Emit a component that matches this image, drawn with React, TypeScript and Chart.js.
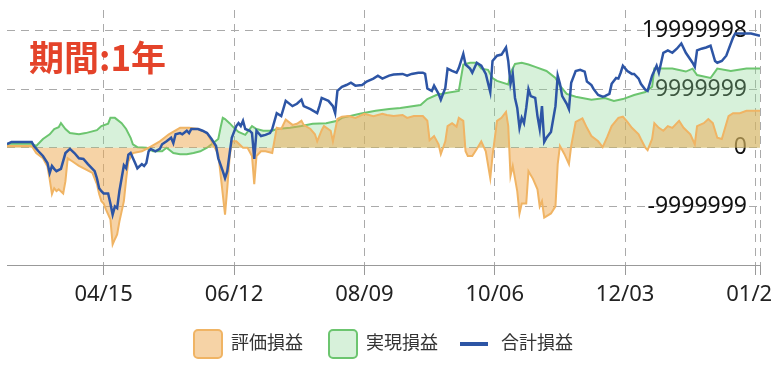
import React, { useEffect, useRef } from 'react';
import { Chart, registerables } from 'chart.js';

Chart.register(...registerables);

const FONT = "'Noto Sans', 'Noto Sans CJK JP', sans-serif";

// x axis: day offsets from the first day of the period (03/03)
const tickDays = [43, 101, 159, 217, 275, 333, 335];
const tickLabels = ['04/15', '06/12', '08/09', '10/06', '12/03', '01/29', ''];
const yTicks = [-19999998, -9999999, 0, 9999999, 19999998];

const seriesNames = ['評価損益', '実現損益', '合計損益'];

// 評価損益 (unrealized)
const unrealizedDays = [
  0, 11, 13, 16, 18, 19, 20, 21, 22, 23,
  25, 26, 27, 29, 32, 35, 38, 40, 41, 42,
  43, 44, 46, 47, 48, 49, 50, 52, 53, 54,
  56, 60, 63, 68, 72, 77, 81, 85, 89, 91,
  94, 95, 97, 98, 99, 100, 102, 105, 107, 109,
  110, 111, 113, 115, 118, 120, 122, 124, 127, 129,
  131, 132, 135, 137, 138, 140, 141, 144, 145, 147,
  149, 152, 155, 159, 163, 167, 169, 172, 176, 178,
  181, 185, 187, 188, 190, 192, 193, 195, 196, 198,
  200, 201, 203, 204, 205, 207, 209, 211, 213, 215,
  216, 218, 220, 222, 223, 224, 225, 227, 228, 229,
  231, 232, 234, 236, 237, 238, 239, 242, 244, 245,
  246, 248, 250, 251, 253, 256, 258, 260, 263, 265,
  267, 269, 272, 274, 276, 278, 281, 282, 284, 285,
  287, 288, 290, 292, 294, 296, 299, 301, 304, 306,
  307, 310, 312, 314, 316, 318, 321, 323, 326, 329,
  335,
];
const unrealizedValues = [
  300000, 300000, -900000, -1800000, -3200000, -5400000, -7900000, -6900000, -7400000, -7100000,
  -7800000, -5700000, -1800000, -2300000, -3100000, -3700000, -4300000, -6200000, -7900000, -9100000,
  -9500000, -10500000, -12200000, -16500000, -15600000, -14800000, -12600000, -9100000, -5400000, -2300000,
  -900000, -600000, 0, 1100000, 2300000, 3400000, 3400000, 3200000, 2500000, 1100000,
  -1100000, -4500000, -11400000, -6900000, -1800000, 1100000, 1100000, 0, 0, -1400000,
  -6200000, -1400000, -600000, -600000, -900000, 3400000, 3200000, 4800000, 3900000, 4100000,
  4600000, 3900000, 3200000, 2300000, 1100000, 3000000, 3700000, 2900000, 1100000, 4900000,
  5300000, 5400000, 5100000, 5800000, 5400000, 5800000, 5600000, 5400000, 5600000, 5100000,
  5400000, 5400000, 4600000, 1300000, 2000000, 600000, -1100000, 1100000, 3700000, 4200000,
  3600000, 5100000, 4600000, -600000, -1400000, -1400000, -200000, 1100000, -600000, -5200000,
  -1400000, 4600000, 5100000, 6100000, 3700000, -4800000, -3100000, -7400000, -11200000, -9500000,
  -9500000, -4000000, -5300000, -7100000, -10000000, -9100000, -11900000, -11200000, -10000000, -2800000,
  300000, -1100000, -2800000, 300000, 4400000, 5000000, 3400000, 2000000, 1100000, 100000,
  1800000, 3700000, 5100000, 5300000, 4400000, 3400000, 2300000, 1500000, 0, -400000,
  1500000, 4200000, 3400000, 2900000, 3700000, 3400000, 4600000, 3400000, 2300000, 600000,
  3700000, 4200000, 4900000, 4200000, 1700000, 1500000, 5400000, 5900000, 5900000, 6300000,
  6300000,
];

// 実現損益 (realized)
const realizedDays = [
  0, 11, 13, 16, 19, 21, 23, 24, 26, 28,
  32, 35, 40, 42, 45, 46, 48, 51, 53, 55,
  56, 58, 62, 65, 69, 71, 74, 77, 80, 83,
  86, 89, 91, 94, 95, 96, 97, 99, 101, 103,
  106, 109, 111, 114, 118, 120, 126, 131, 136, 142,
  147, 149, 157, 164, 170, 175, 184, 187, 191, 196,
  201, 203, 206, 209, 211, 214, 216, 218, 223, 224,
  226, 229, 232, 235, 240, 244, 246, 249, 253, 260,
  266, 270, 274, 279, 284, 287, 288, 296, 302, 305,
  307, 313, 316, 322, 329, 335,
];
const realizedValues = [
  700000, 700000, 300000, 1500000, 2300000, 3200000, 3500000, 4200000, 3200000, 2500000,
  2300000, 2500000, 3000000, 3700000, 4100000, 5100000, 5100000, 4200000, 3200000, 1700000,
  600000, 100000, 0, -600000, -600000, 0, -900000, -1100000, -1100000, -900000,
  -600000, 0, 600000, 1500000, 3400000, 5100000, 4900000, 4200000, 3400000, 2700000,
  2200000, 3700000, 3200000, 2900000, 2900000, 3200000, 3400000, 3700000, 4100000, 4200000,
  4600000, 5100000, 5800000, 6300000, 6600000, 6800000, 7300000, 8300000, 9000000, 9400000,
  9700000, 14200000, 14500000, 14500000, 13500000, 13300000, 11900000, 11400000, 10800000, 12800000,
  14300000, 14500000, 14200000, 13800000, 13100000, 11900000, 10600000, 9200000, 8700000, 8200000,
  8500000, 8000000, 8300000, 9000000, 9500000, 10400000, 13500000, 13500000, 13000000, 13500000,
  12400000, 11900000, 13500000, 13100000, 13500000, 13500000,
];

// 合計損益 (total)
const totalDays = [
  0, 2, 11, 12, 14, 16, 18, 19, 20, 21,
  22, 24, 26, 28, 30, 32, 34, 36, 39, 40,
  41, 42, 43, 45, 46, 47, 48, 49, 50, 51,
  52, 53, 54, 55, 57, 58, 60, 61, 62, 63,
  64, 66, 68, 69, 71, 73, 74, 75, 77, 78,
  80, 81, 82, 85, 87, 89, 91, 93, 94, 96,
  97, 98, 99, 100, 102, 103, 104, 105, 106, 108,
  109, 110, 111, 113, 115, 117, 118, 120, 122, 124,
  127, 129, 131, 132, 135, 138, 139, 140, 143, 145,
  146, 147, 149, 151, 153, 155, 158, 160, 163, 165,
  167, 170, 172, 176, 178, 180, 183, 185, 186, 187,
  189, 190, 192, 193, 195, 196, 198, 200, 201, 203,
  204, 206, 207, 209, 211, 213, 215, 216, 218, 220,
  222, 223, 224, 225, 226, 227, 228, 229, 230, 231,
  232, 233, 235, 236, 237, 238, 239, 240, 242, 244,
  245, 246, 247, 249, 250, 251, 253, 255, 257, 258,
  260, 261, 263, 265, 266, 268, 269, 271, 272, 273,
  274, 276, 278, 279, 281, 282, 284, 285, 287, 289,
  290, 292, 294, 296, 298, 300, 302, 305, 306, 307,
  309, 311, 313, 315, 316, 318, 320, 323, 324, 328,
  331, 335,
];
const totalValues = [
  600000, 1000000, 1000000, 300000, -600000, -1400000, -2600000, -4300000, -3100000, -3600000,
  -4000000, -3600000, -900000, -200000, -900000, -1800000, -1900000, -2800000, -4000000, -5200000,
  -6900000, -7400000, -7800000, -7800000, -9500000, -11400000, -10000000, -10300000, -7400000, -5200000,
  -3000000, -3500000, -1200000, -900000, -2600000, -3500000, -2800000, -3100000, -2600000, -600000,
  -200000, -600000, -200000, 600000, 1100000, 1700000, 800000, 2300000, 2500000, 2300000,
  2900000, 2500000, 3200000, 3200000, 2900000, 2500000, 1500000, 300000, -1800000, -4000000,
  -5200000, -4000000, -1100000, 1700000, 3700000, 4200000, 3700000, 4600000, 3200000, 2900000,
  2500000, -1900000, 2900000, 2000000, 2200000, 2500000, 3200000, 5900000, 5400000, 8000000,
  7100000, 7500000, 8200000, 7100000, 6600000, 5900000, 7100000, 8500000, 8000000, 7100000,
  5900000, 9700000, 10400000, 10700000, 11100000, 10600000, 10700000, 11300000, 11800000, 12300000,
  11800000, 12300000, 12500000, 12600000, 12300000, 12600000, 12800000, 12800000, 12600000, 10100000,
  9700000, 10600000, 9200000, 8200000, 10200000, 13500000, 13100000, 12800000, 13600000, 16000000,
  14200000, 13500000, 12800000, 14500000, 14000000, 12600000, 9500000, 14800000, 15700000, 15900000,
  17100000, 14800000, 10900000, 12600000, 8500000, 6800000, 3400000, 5100000, 4200000, 6800000,
  10000000, 8800000, 8500000, 5400000, 3200000, 7100000, 1000000, 1700000, 2700000, 7100000,
  12300000, 10900000, 8800000, 7500000, 6600000, 11100000, 13100000, 13300000, 13000000, 11300000,
  10700000, 10000000, 9000000, 8700000, 8800000, 9200000, 10900000, 11900000, 11800000, 12800000,
  14000000, 13100000, 12600000, 12600000, 11800000, 10900000, 9900000, 9700000, 12300000, 14000000,
  12800000, 16200000, 16600000, 16200000, 16900000, 17800000, 16200000, 14500000, 13800000, 16600000,
  16900000, 17100000, 17400000, 14800000, 14500000, 14800000, 15700000, 18800000, 19500000, 19500000,
  19500000, 19100000,
];

const BLUE = '#2D55A5';

const legendLinePlugin = {
  id: 'legendLine',
  afterDraw(chart: any) {
    const boxes = chart.legend?.legendHitBoxes;
    if (!boxes || !boxes[2]) return;
    const hb = boxes[2];
    const ctx = chart.ctx;
    ctx.save();
    ctx.strokeStyle = BLUE;
    ctx.lineWidth = 4;
    ctx.beginPath();
    const cy = hb.top + 14;
    ctx.moveTo(hb.left - 4, cy);
    ctx.lineTo(hb.left + 24, cy);
    ctx.stroke();
    ctx.restore();
  },
};

const toPoints = (days: number[], values: number[]) => days.map((d, i) => ({ x: d, y: values[i] }));

export default function App() {
  const ref = useRef<HTMLCanvasElement>(null);

  useEffect(() => {
    document.body.style.margin = '0';
    const canvas = ref.current;
    if (!canvas) return;
    const chart = new Chart(canvas, {
      type: 'line',
      data: {
        datasets: [
          {
            label: seriesNames[0],
            data: toPoints(unrealizedDays, unrealizedValues),
            borderColor: 'rgb(240,180,100)',
            backgroundColor: 'rgba(238,168,78,0.5)',
            borderWidth: 2,
            fill: 'origin',
            order: 1,
          },
          {
            label: seriesNames[1],
            data: toPoints(realizedDays, realizedValues),
            borderColor: 'rgb(108,197,111)',
            backgroundColor: 'rgba(140,215,150,0.35)',
            borderWidth: 2,
            fill: 'origin',
            order: 2,
          },
          {
            label: seriesNames[2],
            data: toPoints(totalDays, totalValues),
            borderColor: BLUE,
            backgroundColor: BLUE,
            borderWidth: 2.5,
            fill: false,
            order: 0,
          },
        ],
      },
      options: {
        animation: false,
        responsive: true,
        maintainAspectRatio: false,
        layout: { padding: { top: 10, left: 7, right: 11, bottom: 0 } },
        elements: { point: { radius: 0 }, line: { tension: 0 } },
        plugins: {
          tooltip: { enabled: false },
          legend: {
            position: 'bottom',
            labels: {
              boxWidth: 28,
              boxHeight: 28,
              padding: 26,
              color: '#333',
              font: { size: 18, family: FONT },
              useBorderRadius: true,
              borderRadius: 4,
              sort: (a: any, b: any) => a.datasetIndex - b.datasetIndex,
              generateLabels: (ch: any) =>
                ch.data.datasets.map((ds: any, i: number) => ({
                  text: ds.label,
                  datasetIndex: i,
                  hidden: false,
                  fillStyle: i === 2 ? 'rgba(0,0,0,0)' : ds.backgroundColor,
                  strokeStyle: i === 2 ? 'rgba(0,0,0,0)' : ds.borderColor,
                  lineWidth: i === 2 ? 0 : 2,
                  borderRadius: 4,
                  fontColor: '#333',
                })),
            },
          },
        },
        scales: {
          x: {
            type: 'linear',
            min: 0,
            max: 335,
            afterBuildTicks: (s: any) => {
              s.ticks = tickDays.map((v) => ({ value: v }));
            },
            afterFit: (s: any) => {
              s.paddingLeft = 0;
              s.paddingRight = 0;
              s.height = 39;
            },
            ticks: {
              autoSkip: false,
              maxRotation: 0,
              padding: 7,
              color: '#222',
              font: { size: 22, family: FONT },
              callback: (_v: any, i: number) => tickLabels[i],
            },
            grid: {
              color: '#aaa',
              lineWidth: 1,
              drawTicks: true,
              tickLength: 10,
              tickColor: '#999',
              tickBorderDash: [],
            },
            border: { display: true, color: '#999', width: 1, dash: [8, 6] },
          },
          y: {
            position: 'right',
            min: -19999998,
            max: 23500000,
            afterBuildTicks: (s: any) => {
              s.ticks = yTicks.map((v) => ({ value: v }));
            },
            afterFit: (s: any) => {
              s.paddingTop = 0;
              s.paddingBottom = 0;
              s.width = 0;
            },
            ticks: {
              mirror: true,
              padding: -13,
              color: '#111',
              font: { size: 23, family: FONT },
              callback: (v: any) => (v === yTicks[0] ? '' : String(v)),
            },
            grid: { color: '#aaa', lineWidth: 1, drawTicks: false },
            border: { display: false, dash: [8, 6] },
          },
        },
      },
      plugins: [legendLinePlugin],
    } as any);
    return () => chart.destroy();
  }, []);

  return (
    <div style={{ position: 'relative', width: 771, height: 368 }}>
      <canvas ref={ref} />
      <div
        style={{
          position: 'absolute',
          left: 29,
          top: 38,
          fontFamily: "'Noto Sans CJK JP', sans-serif",
          fontWeight: 700,
          fontSize: 35,
          lineHeight: 1,
          color: '#E4432A',
          whiteSpace: 'nowrap',
          pointerEvents: 'none',
        }}
      >
        期間:1年
      </div>
    </div>
  );
}
